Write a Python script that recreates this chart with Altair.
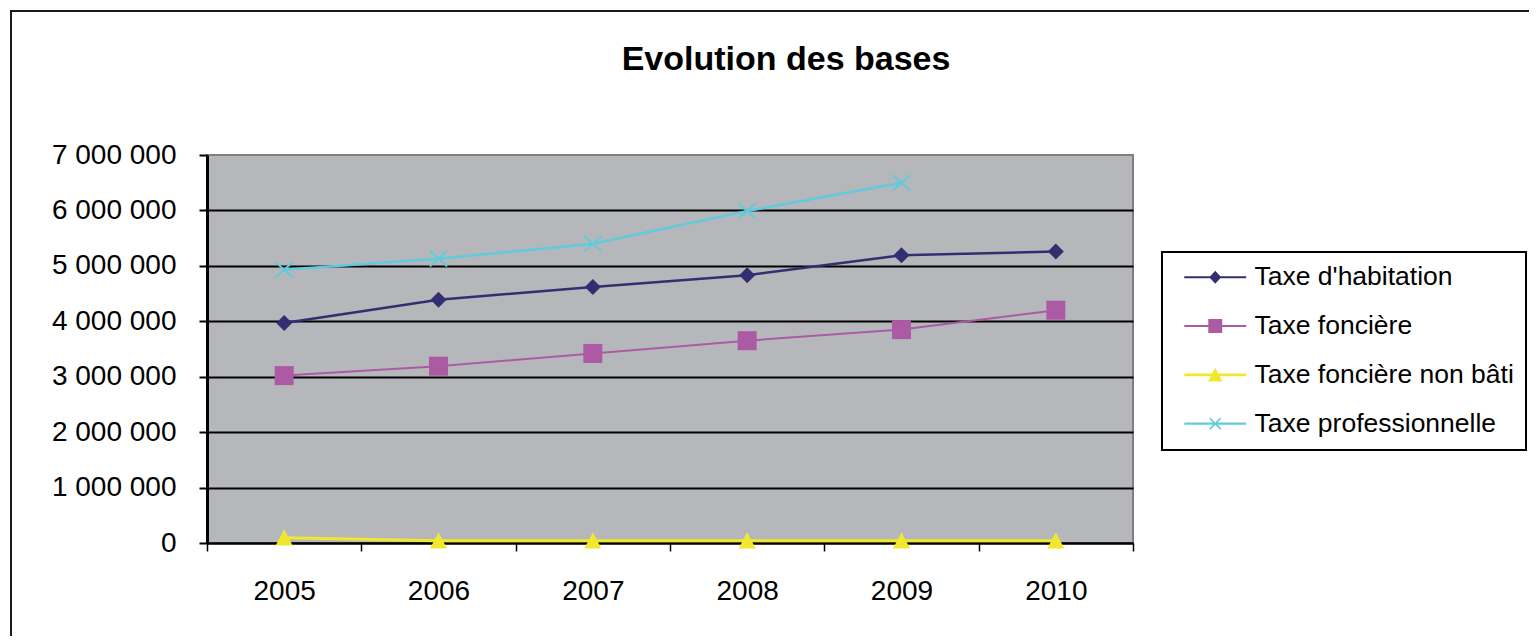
import altair as alt
import pandas as pd

# ---------------- data ----------------
years = [2005, 2006, 2007, 2008, 2009, 2010]
series_names = ["Taxe d'habitation", "Taxe foncière", "Taxe foncière non bâti", "Taxe professionnelle"]
habitation = [3970000, 4390000, 4620000, 4830000, 5190000, 5260000]
fonciere = [3020000, 3190000, 3420000, 3650000, 3850000, 4200000]
non_bati = [95000, 40000, 40000, 40000, 40000, 40000]
professionnelle = [4930000, 5130000, 5400000, 5990000, 6500000, None]
y_ticks = [0, 1000000, 2000000, 3000000, 4000000, 5000000, 6000000, 7000000]
x_ticks = [2004.5, 2005, 2005.5, 2006, 2006.5, 2007, 2007.5, 2008, 2008.5,
           2009, 2009.5, 2010, 2010.5]
title_text = "Evolution des bases"

# ---------------- styles ----------------
colors = ["#312E72", "#AD5AA4", "#F0E72E", "#5FCBDD"]
line_widths = [2.5, 2, 3, 2.5]
FONT = "Liberation Sans"

rows = []
for name, vals in zip(series_names, [habitation, fonciere, non_bati, professionnelle]):
    for yr, v in zip(years, vals):
        if v is not None:
            rows.append({"annee": yr, "valeur": v, "serie": name})
df = pd.DataFrame(rows)

x_enc = alt.X(
    "annee:Q",
    scale=alt.Scale(domain=[2004.5, 2010.5], nice=False, zero=False),
    axis=alt.Axis(
        values=x_ticks,
        labelExpr="datum.value % 1 == 0 ? format(datum.value, 'd') : ''",
        tickOpacity={"condition": {"test": "datum.value % 1 == 0", "value": 0}, "value": 1},
        labelFont=FONT, labelFontSize=28, labelColor="black",
        labelPadding=26, labelOverlap=False, labelFlush=False,
        tickSize=8, tickColor="black", tickWidth=1.5,
        domainColor="black", domainWidth=2, grid=False, title=None,
    ),
)
y_enc = alt.Y(
    "valeur:Q",
    scale=alt.Scale(domain=[0, 7000000], nice=False),
    axis=alt.Axis(
        values=y_ticks,
        labelExpr="join(split(format(datum.value, ','), ','), ' ')",
        labelFont=FONT, labelFontSize=28, labelColor="black",
        labelPadding=23, labelOverlap=False, labelFlush=False,
        tickSize=8, tickColor="black", tickWidth=2,
        domainColor="black", domainWidth=3,
        grid=True, gridColor="black", gridWidth=2,
        gridOpacity={"condition": {"test": "datum.value == 7000000", "value": 0}, "value": 1},
        title=None,
    ),
)

markers = [
    dict(shape="diamond", size=256, filled=True),
    dict(shape="square", size=361, filled=True),
    dict(shape="M0,-1L1,0.9L-1,0.9Z", size=289, filled=True),
    dict(shape="M-1,-0.9L1,0.9M-1,0.9L1,-0.9", size=300, filled=False, strokeWidth=2),
]

layers = []
frame = alt.Chart(pd.DataFrame({"k": [0]})).mark_rect(
    fillOpacity=0, stroke="#1a1a1a", strokeWidth=2
).encode(x=alt.value(-196), x2=alt.value(1500), y=alt.value(-144), y2=alt.value(800))
layers.append(frame)

for i, name in enumerate(series_names):
    base = alt.Chart(df).transform_filter(alt.FieldEqualPredicate(field="serie", equal=name))
    layers.append(base.mark_line(color=colors[i], strokeWidth=line_widths[i]).encode(x=x_enc, y=y_enc))
for i, name in enumerate(series_names):
    base = alt.Chart(df).transform_filter(alt.FieldEqualPredicate(field="serie", equal=name))
    m = markers[i]
    kw = dict(shape=m["shape"], size=m["size"], filled=m["filled"], opacity=1, color=colors[i])
    if not m["filled"]:
        kw["strokeWidth"] = m["strokeWidth"]
    layers.append(base.mark_point(**kw).encode(x=x_enc, y=y_enc))

# legend symbols: short line + marker (unit = sqrt(symbolSize)/2)
def line_seg(h):
    return f"M-2.58,-{h}H2.58V{h}H-2.58Z"

legend_paths = [
    line_seg(0.09) + "M0,-0.55L0.5,0L0,0.55L-0.5,0Z",
    line_seg(0.08) + "M-0.58,-0.58H0.58V0.58H-0.58Z",
    line_seg(0.12) + "M0,-0.6L0.6,0.55L-0.6,0.55Z",
    line_seg(0.09) + "M-0.5,-0.4L-0.4,-0.5L0.5,0.4L0.4,0.5ZM0.4,-0.5L0.5,-0.4L-0.4,0.5L-0.5,0.4Z",
]

leg = alt.Legend(
    title=None, orient="none", legendX=955, legendY=97,
    symbolSize=576, symbolOffset=28, symbolStrokeWidth=0,
    labelFont=FONT, labelFontSize=26.5, labelColor="black", labelOffset=26, labelLimit=600,
    rowPadding=21.8, padding=12, strokeColor="black", fillColor="white",
)
legend_layer = alt.Chart(df).mark_point(filled=True, opacity=1).encode(
    x=x_enc, y=y_enc,
    color=alt.Color("serie:N", scale=alt.Scale(domain=series_names, range=colors), legend=leg),
    shape=alt.Shape("serie:N", scale=alt.Scale(domain=series_names, range=legend_paths), legend=leg),
).transform_filter("false")
layers.append(legend_layer)

chart = alt.layer(*layers).properties(
    width=926, height=388,
    padding={"left": 199, "top": 147, "right": 396, "bottom": 93},
    autosize="none",
    title=alt.Title(title_text, anchor="middle", dx=116, offset=-94, baseline="alphabetic",
                    font=FONT, fontSize=34, fontWeight="bold", color="black"),
).configure_view(
    fill="#B6B7BB", stroke="#7F7F7F", strokeWidth=2
).configure_legend(strokeWidth=2)

chart.save("out.html", embed_options={"renderer": "svg", "actions": False})
